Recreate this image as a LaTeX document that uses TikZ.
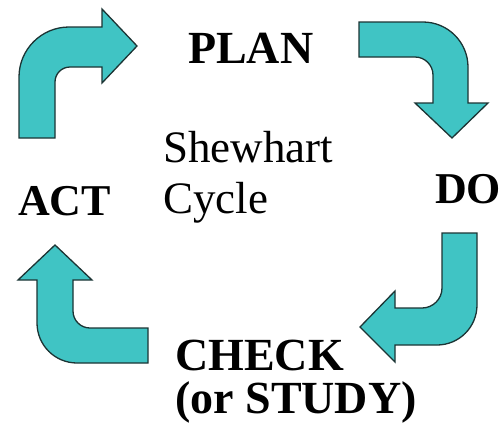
\documentclass[tikz,border=0pt]{standalone}
\usepackage{fontspec}
\setmainfont{Liberation Serif}
\definecolor{teal}{RGB}{64,196,196}
\definecolor{rim}{RGB}{28,52,52}
\begin{document}
\begin{tikzpicture}[x=1pt,y=-1pt,
  bentarrow/.style={fill=teal,draw=rim,line width=1.3pt,line join=miter},
  stage/.style={inner sep=0pt,anchor=base west,font=\bfseries\fontsize{46}{50}\selectfont},
  caption/.style={inner sep=0pt,anchor=base west,font=\fontsize{45}{51}\selectfont}]
\useasboundingbox (0,0) rectangle (504,432);

% top-left arrow: up and to the right, towards PLAN
\path[bentarrow] (19,138) -- (19,77) .. controls (19,49.4) and (41.4,27) .. (69,27)
  -- (102,27) -- (102,9) -- (137,46) -- (102,83) -- (102,67) -- (70,67)
  .. controls (61.7,67) and (55,73.7) .. (55,82) -- (55,138) -- cycle;

% top-right arrow: right and down, towards DO
\path[bentarrow] (359,22) -- (423,22) .. controls (447.8,22) and (468,42.2) .. (468,67)
  -- (468,103) -- (488,103) -- (452,138) -- (415,103) -- (433,103) -- (433,75)
  .. controls (433,65.1) and (424.9,57) .. (415,57) -- (359,57) -- cycle;

% bottom-right arrow: down and to the left, towards CHECK
\path[bentarrow] (442,233) -- (477,233) -- (477,305) .. controls (477,327.1) and (459.1,345) .. (437,345)
  -- (395,345) -- (395,362) -- (360,327) -- (395,291) -- (395,308) -- (422,308)
  .. controls (433,308) and (442,299) .. (442,288) -- cycle;

% bottom-left arrow: left and up, towards ACT
\path[bentarrow] (148,328) -- (90,328) .. controls (80.6,328) and (73,320.4) .. (73,311)
  -- (73,280) -- (92,280) -- (55,245) -- (18,280) -- (37,280) -- (37,323)
  .. controls (37,345.1) and (54.9,363) .. (77,363) -- (148,363) -- cycle;

% stage labels
\node[stage] (plan) at (188,63) {PLAN};
\node[stage,font=\bfseries\fontsize{44}{48}\selectfont] (do) at (435,203) {DO};
\node[stage,font=\bfseries\fontsize{44}{48}\selectfont] (act) at (18,215) {ACT};
\node[stage] (check) at (175,370) {CHECK};
\node[stage] (study) at (175,413) {(or STUDY)};

% centre caption
\node[caption] (shewhart) at (163,162) {Shewhart};
\node[caption] (cycle) at (163,213) {Cycle};
\end{tikzpicture}
\end{document}
